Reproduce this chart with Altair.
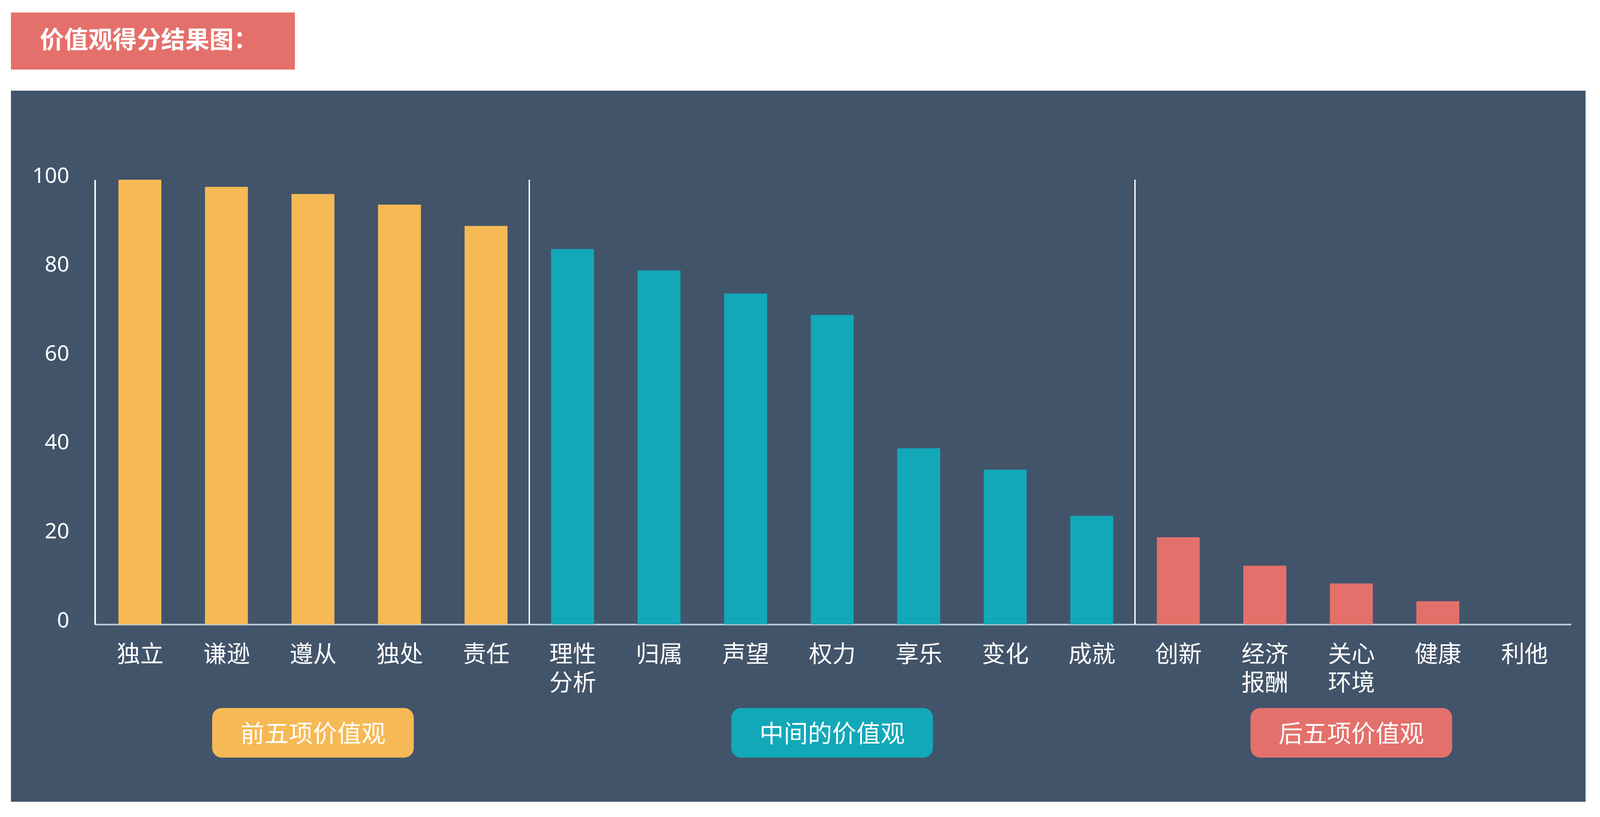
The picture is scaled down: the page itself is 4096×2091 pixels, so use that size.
import json
import altair as alt
import pandas as pd

# ---------------- data ----------------
title_text = "价值观得分结果图："
categories = ["独立", "谦逊", "遵从", "独处", "责任", "理性\n分析", "归属", "声望", "权力",
              "享乐", "变化", "成就", "创新", "经济\n报酬", "关心\n环境", "健康", "利他"]
scores = [100, 98.4, 96.8, 94.4, 89.6, 84.4, 79.6, 74.4, 69.6,
          39.6, 34.8, 24.4, 19.6, 13.2, 9.2, 5.2, 0]
group_names = ["前五项价值观", "中间的价值观", "后五项价值观"]
group_sizes = [5, 7, 5]
group_colors = ["#F6B955", "#12A8B8", "#E4706B"]
y_ticks = [0, 20, 40, 60, 80, 100]

# ---------------- tables built from the arrays ----------------
groups = []
for g, n in zip(group_names, group_sizes):
    groups += [g] * n
bars = pd.DataFrame({"idx": list(range(len(categories))), "name": categories,
                     "score": scores, "group": groups})

starts = [sum(group_sizes[:k]) for k in range(len(group_sizes))]
pills = pd.DataFrame({
    "group": group_names,
    "center": [s + (n - 1) / 2 for s, n in zip(starts, group_sizes)],
})
seps = pd.DataFrame({
    "x": [s - 0.5 for s in starts[1:]],
    "y": [y_ticks[0]] * (len(starts) - 1),
    "y2": [y_ticks[-1]] * (len(starts) - 1),
})
title_df = pd.DataFrame({"t": [title_text]})

# ---------------- layout (output pixels) ----------------
PANEL_W, PANEL_H = 4031, 1820
X0, X1 = 215, 3994
Y0, Y1 = 1366, 228
BG = "#42546A"
FONT_CJK = "Noto Sans CJK SC"

label_lines = json.dumps([c.split("\n") for c in categories], ensure_ascii=False)

xscale = alt.Scale(domain=[-0.52, len(categories) - 0.46], range=[X0, X1], nice=False, zero=False)
yscale = alt.Scale(domain=[y_ticks[0], y_ticks[-1]], range=[Y0, Y1], nice=False, zero=False)
cscale = alt.Scale(domain=group_names, range=group_colors)

x_axis = alt.Axis(values=list(range(len(categories))), labelExpr=f"{label_lines}[datum.value]",
                  grid=False, ticks=False, domainColor="#BFD0DE", domainWidth=4,
                  labelColor="#FFFFFF", labelFontSize=60, labelFont=FONT_CJK,
                  labelPadding=49, labelLineHeight=73, labelFlush=False, labelOverlap=False,
                  labelBaseline="top", labelAngle=0, offset=-(PANEL_H - Y0), title="")
y_axis = alt.Axis(values=y_ticks, grid=False, ticks=False, domainColor="#FFFFFF", domainWidth=4,
                  labelColor="#FFFFFF", labelFontSize=55, labelFont="Noto Sans",
                  labelPadding=66, labelOffset=-10, offset=-X0, title="")

bar_layer = alt.Chart(bars).transform_calculate(
    xa="datum.idx - 0.248", xb="datum.idx + 0.248"
).mark_rect().encode(
    x=alt.X("xa:Q", scale=xscale, axis=x_axis, title=""),
    x2="xb:Q",
    y=alt.Y("score:Q", scale=yscale, axis=y_axis, title=""),
    y2=alt.datum(0),
    color=alt.Color("group:N", scale=cscale, legend=None),
)

sep_layer = alt.Chart(seps).mark_rule(color="#FFFFFF", strokeWidth=3.5).encode(
    x=alt.X("x:Q", scale=xscale, axis=x_axis, title=""),
    y=alt.Y("y:Q", scale=yscale, axis=y_axis, title=""),
    y2="y2:Q",
)

pill_layer = alt.Chart(pills).transform_calculate(
    xa="datum.center - 1.165", xb="datum.center + 1.165"
).mark_rect(cornerRadius=25).encode(
    x=alt.X("xa:Q", scale=xscale, axis=x_axis, title=""),
    x2="xb:Q",
    y=alt.value(1580),
    y2=alt.value(1707),
    color=alt.Color("group:N", scale=cscale, legend=None),
)

pill_text = alt.Chart(pills).mark_text(
    font=FONT_CJK, fontSize=62, color="#FFFFFF", align="center", baseline="middle"
).encode(
    x=alt.X("center:Q", scale=xscale, axis=x_axis, title=""),
    y=alt.value(1649),
    text="group:N",
)

main = alt.layer(bar_layer, sep_layer, pill_layer, pill_text).properties(
    width=PANEL_W, height=PANEL_H, view=alt.ViewBackground(fill=BG, strokeWidth=0)
)

title_box = alt.Chart(title_df).mark_text(
    font=FONT_CJK, fontSize=62, fontWeight="bold", color="#FFFFFF", align="left", baseline="middle"
).encode(
    x=alt.value(74), y=alt.value(73), text="t:N"
).properties(width=727, height=146, view=alt.ViewBackground(fill="#E4706B", strokeWidth=0))

chart = alt.vconcat(title_box, main, spacing=54).properties(
    padding={"left": 20, "top": 24, "right": 0, "bottom": 0},
    background="#FFFFFF",
).configure_view(strokeWidth=0)

chart.save("out.html", embed_options={"renderer": "svg", "actions": False})
